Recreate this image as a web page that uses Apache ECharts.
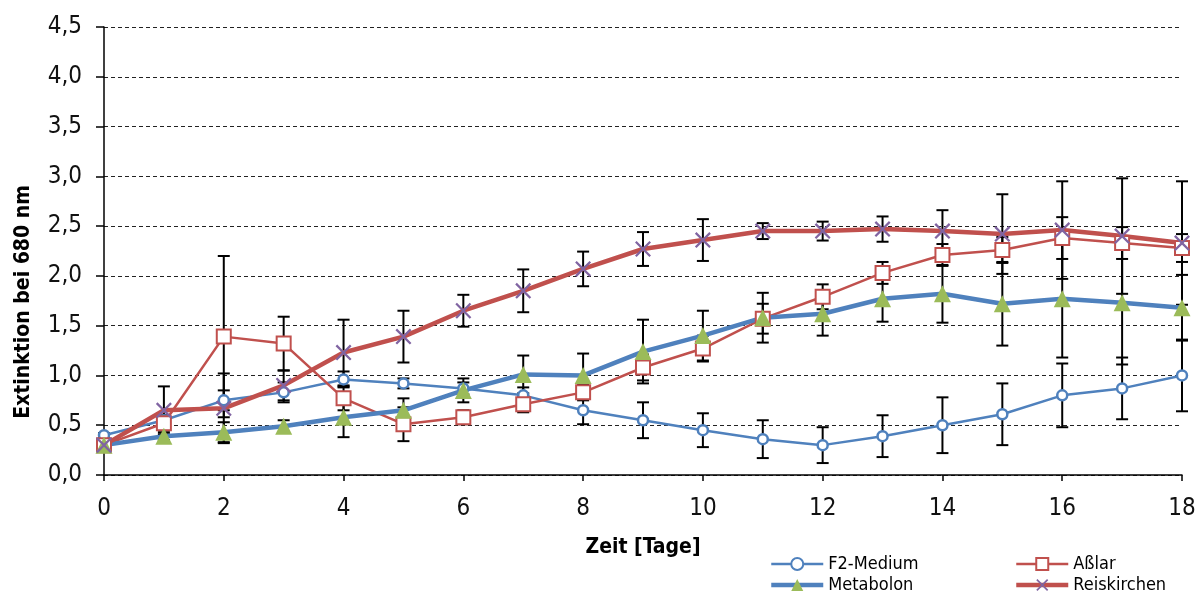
<!DOCTYPE html>
<html>
<head>
<meta charset="utf-8">
<script src="https://cdn.jsdelivr.net/npm/echarts@6/dist/echarts.min.js"></script>
<style>html,body{margin:0;padding:0;background:#fff}#c{width:1201px;height:594px}</style>
</head>
<body>
<div id="c"></div>
<script>
const days = [0,1,2,3,4,5,6,7,8,9,10,11,12,13,14,15,16,17,18];
const f2Medium   = [0.40,0.55,0.75,0.83,0.96,0.92,0.87,0.80,0.65,0.55,0.45,0.36,0.30,0.39,0.50,0.61,0.80,0.87,1.00];
const f2Err      = [0.02,0.05,0.10,0.10,0.08,0.05,0.06,0.08,0.14,0.18,0.17,0.19,0.18,0.21,0.28,0.31,0.32,0.31,0.36];
const metabolon  = [0.30,0.39,0.43,0.49,0.58,0.65,0.85,1.01,1.00,1.24,1.40,1.58,1.62,1.77,1.82,1.72,1.77,1.73,1.68];
const metaErr    = [0.02,0.04,0.10,0.06,0.20,0.12,0.12,0.19,0.22,0.32,0.25,0.25,0.22,0.23,0.29,0.42,0.59,0.62,0.33];
const asslar     = [0.30,0.52,1.39,1.32,0.77,0.51,0.58,0.71,0.83,1.08,1.27,1.57,1.79,2.03,2.21,2.26,2.38,2.33,2.28];
const asslarErr  = [0.02,0.05,0.81,0.27,0.12,0.17,0.07,0.08,0.08,0.13,0.13,0.15,0.125,0.11,0.11,0.13,0.21,0.16,0.14];
const reis       = [0.30,0.65,0.67,0.90,1.23,1.39,1.65,1.85,2.07,2.27,2.36,2.45,2.45,2.47,2.45,2.42,2.46,2.40,2.33];
const reisErr    = [0.02,0.24,0.35,0.15,0.33,0.26,0.16,0.215,0.174,0.17,0.21,0.08,0.095,0.127,0.21,0.40,0.49,0.58,0.62];
const yTicks = ['0,0','0,5','1,0','1,5','2,0','2,5','3,0','3,5','4,0','4,5'];
const yTitle = 'Extinktion bei 680 nm';
const xTitle = 'Zeit [Tage]';

const FONT = "'Liberation Sans Narrow','Arial Narrow','DejaVu Sans Condensed',sans-serif";
const BLUE = '#4F81BD', RED = '#C0504D', GREEN = '#9BBB59', PURPLE = '#8064A2';
const CROSS = 'path://M0,1L1,0L5,4L9,0L10,1L6,5L10,9L9,10L5,6L1,10L0,9L4,5Z';

function pts(vals){ return days.map((d,i)=>[d, vals[i]]); }
function errPts(vals, errs){ return days.map((d,i)=>[d, vals[i]-errs[i], vals[i]+errs[i]]); }
function errSeries(vals, errs){
  return {
    type:'custom', z:1, silent:true,
    data: errPts(vals, errs),
    renderItem: function(params, api){
      const x = api.value(0), lo = api.value(1), hi = api.value(2);
      const a = api.coord([x, hi]), b = api.coord([x, lo]);
      const w = 6, st = {stroke:'#000', lineWidth:2};
      return {type:'group', children:[
        {type:'line', shape:{x1:a[0],y1:a[1],x2:b[0],y2:b[1]}, style:st},
        {type:'line', shape:{x1:a[0]-w,y1:a[1],x2:a[0]+w,y2:a[1]}, style:st},
        {type:'line', shape:{x1:b[0]-w,y1:b[1],x2:b[0]+w,y2:b[1]}, style:st}
      ]};
    }
  };
}

const legendText = {fontFamily:FONT, fontSize:18, color:'#000', lineHeight:18};
const chart = echarts.init(document.getElementById('c'), null, {renderer:'canvas'});
chart.setOption({
  animation:false,
  backgroundColor:'#fff',
  grid:{left:104, right:19, top:27, bottom:119, containLabel:false, outerBoundsMode:'none'},
  graphic:[{
    type:'text', x:24, y:302, rotation:Math.PI/2,
    style:{text:yTitle, fontFamily:FONT, fontWeight:'bold', fontSize:21, fill:'#000',
           textAlign:'center', textVerticalAlign:'middle'}
  }],
  xAxis:{
    type:'value', min:0, max:18, interval:2,
    name:xTitle, nameLocation:'middle', nameGap:62,
    nameTextStyle:{fontFamily:FONT, fontWeight:'bold', fontSize:21, color:'#000'},
    axisLine:{show:true, onZero:false, lineStyle:{color:'#000', width:1.5}},
    axisTick:{show:true, length:6, lineStyle:{color:'#000', width:1.5}},
    axisLabel:{fontFamily:FONT, fontSize:24, color:'#111', margin:22},
    splitLine:{show:false}
  },
  yAxis:{
    type:'value', min:0, max:4.5, interval:0.5,
    axisLine:{show:true, lineStyle:{color:'#000', width:1.5}},
    axisTick:{show:true, length:8, lineStyle:{color:'#000', width:1.5}},
    axisLabel:{fontFamily:FONT, fontSize:24, color:'#111', margin:22,
      formatter:function(v){ return yTicks[Math.round(v/0.5)]; }},
    splitLine:{show:true, lineStyle:{color:'#222', type:[4,3], width:1}}
  },
  legend:[
    {data:[{name:'F2-Medium', lineStyle:{width:2.5}}, {name:'Metabolon', lineStyle:{width:4.5}}],
     orient:'vertical', left:764, top:550, height:44, itemWidth:52, itemHeight:15, itemGap:3,
     textStyle:legendText},
    {data:[{name:'Aßlar', lineStyle:{width:2.5}}, {name:'Reiskirchen', lineStyle:{width:4.5}}],
     orient:'vertical', left:1009, top:550, height:44, itemWidth:52, itemHeight:15, itemGap:3,
     textStyle:legendText}
  ],
  series:[
    errSeries(f2Medium, f2Err),
    errSeries(asslar, asslarErr),
    errSeries(metabolon, metaErr),
    errSeries(reis, reisErr),
    {name:'F2-Medium', type:'line', z:3, data:pts(f2Medium), symbol:'circle', symbolSize:10,
     lineStyle:{color:BLUE, width:2.5}, itemStyle:{color:'#fff', borderColor:BLUE, borderWidth:2.5}},
    {name:'Aßlar', type:'line', z:3, data:pts(asslar), symbol:'rect', symbolSize:14,
     lineStyle:{color:RED, width:2.5}, itemStyle:{color:'#fff', borderColor:RED, borderWidth:2}},
    {name:'Metabolon', type:'line', z:3, data:pts(metabolon), symbol:'triangle', symbolSize:17,
     lineStyle:{color:BLUE, width:4.5}, itemStyle:{color:GREEN, borderColor:GREEN, borderWidth:0}},
    {name:'Reiskirchen', type:'line', z:3, data:pts(reis), symbol:CROSS, symbolSize:16,
     lineStyle:{color:RED, width:4.5}, itemStyle:{color:PURPLE, borderWidth:0}}
  ]
});
</script>
</body>
</html>
